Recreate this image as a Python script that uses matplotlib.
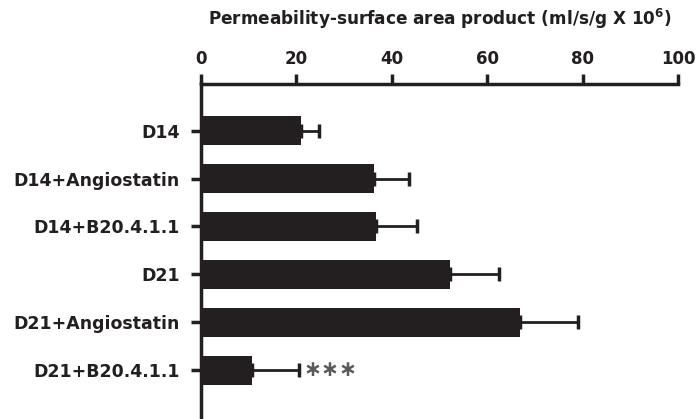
import matplotlib
matplotlib.use("Agg")
import matplotlib.pyplot as plt

# data
groups = ["D14", "D14+Angiostatin", "D14+B20.4.1.1", "D21", "D21+Angiostatin", "D21+B20.4.1.1"]
means = [21.0, 36.3, 36.7, 52.3, 66.8, 10.7]
errors = [3.7, 7.4, 8.7, 10.2, 12.2, 9.9]

BAR_COLOR = "#231f20"
TEXT_COLOR = "#231f20"

plt.rcParams["font.family"] = ["DejaVu Sans"]
plt.rcParams["font.weight"] = "bold"
plt.rcParams["mathtext.fontset"] = "dejavusans"

fig = plt.figure(figsize=(6.97, 4.19), dpi=100)
ax = fig.add_axes([0.288, 0.0, 0.685, 0.7995])

ypos = list(range(len(groups)))
ax.barh(ypos, means, height=0.6, color=BAR_COLOR, zorder=2)
ax.errorbar(means, ypos, xerr=[[0] * len(errors), errors], fmt="none",
            ecolor=BAR_COLOR, elinewidth=2, capsize=5, capthick=2.5, zorder=3)

# significance marker on the last group
ax.text(means[-1] + errors[-1] + 1.0, ypos[-1], "\u2217\u2217\u2217", ha="left", va="center",
        fontsize=15.5, color="#5a5a5a", fontweight="bold")

ax.set_xlim(0, 100)
ax.set_ylim(6.02, -0.975)
ax.set_yticks(ypos)
ax.set_yticklabels(groups, fontsize=12.5, color=TEXT_COLOR)
ax.set_xticks([0, 20, 40, 60, 80, 100])

ax.xaxis.tick_top()
ax.xaxis.set_label_position("top")
ax.set_xlabel(r"Permeability-surface area product (ml/s/g X 10$^{\mathbf{6}}$)",
              fontsize=12.2, color=TEXT_COLOR, labelpad=18, fontweight="bold")

ax.tick_params(axis="x", labelsize=12, colors=TEXT_COLOR, length=7.5, width=2.5, pad=4)
ax.tick_params(axis="y", colors=TEXT_COLOR, length=7, width=2.5, pad=8)

for side in ["right", "bottom"]:
    ax.spines[side].set_visible(False)
for side in ["left", "top"]:
    ax.spines[side].set_linewidth(2.5)
    ax.spines[side].set_color(TEXT_COLOR)

fig.savefig("out.png", dpi=100, facecolor="white")
